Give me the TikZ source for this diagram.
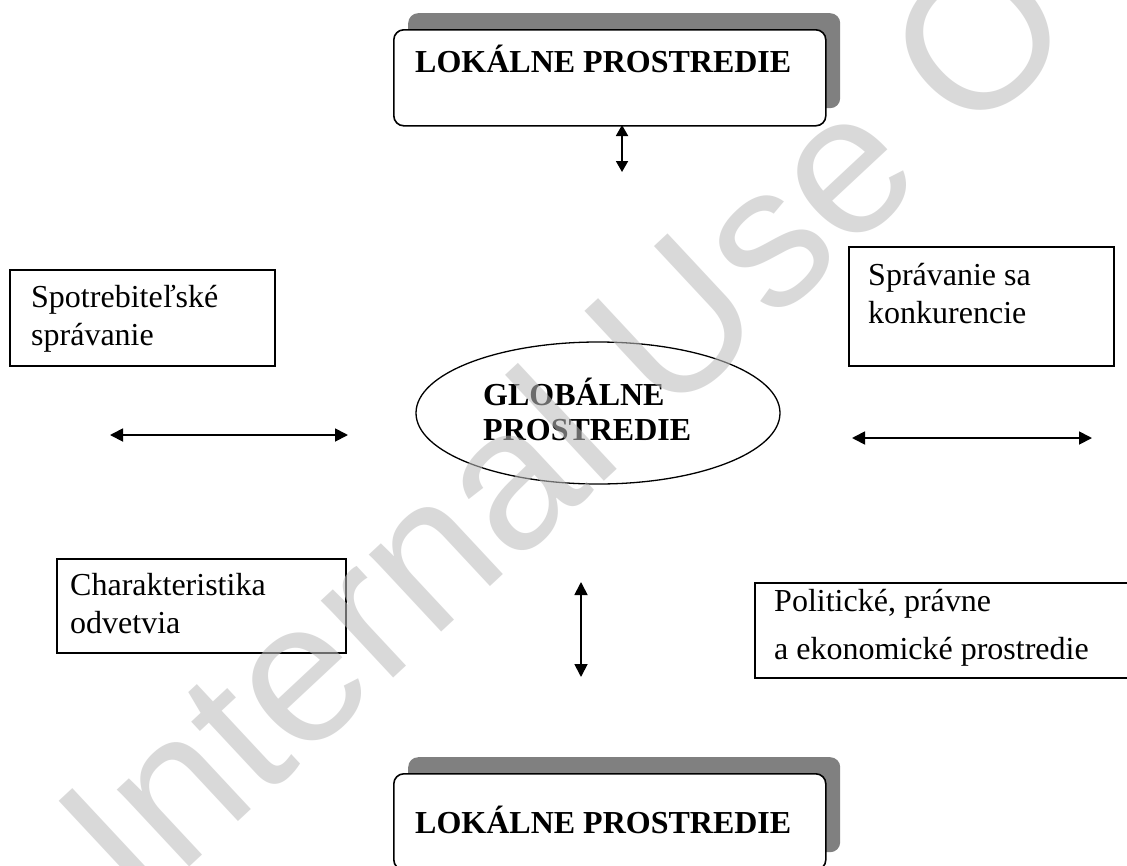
\documentclass[tikz,border=0pt]{standalone}
\usepackage{fontspec}
\setmainfont{Liberation Serif}
\newfontfamily\wmfont{Liberation Sans}
\usetikzlibrary{arrows.meta,shapes.geometric}
\begin{document}
\begin{tikzpicture}[x=1pt,y=-1pt,
  frame/.style={draw, line width=1.6pt, fill=white, inner sep=0pt, anchor=north west},
  roundframe/.style={frame, rounded corners=10pt},
  shadowbox/.style={fill=black!50, rounded corners=10pt, inner sep=0pt, anchor=north west},
  txt/.style={inner sep=0pt, anchor=base west, font=\fontsize{32}{38}\selectfont},
  boldtxt/.style={inner sep=0pt, anchor=base west, font=\fontsize{32}{38}\selectfont\bfseries},
  link/.style={line width=1.8pt, {Triangle[length=13pt,width=13pt]}-{Triangle[length=13pt,width=13pt]}},
  shortlink/.style={line width=1.8pt, {Triangle[length=11pt,width=12pt]}-{Triangle[length=11pt,width=12pt]}},
  watermark/.style={inner sep=0pt, anchor=base west, rotate=43, text=black!26, text opacity=0.57,
    font=\wmfont\fontsize{200}{200}\selectfont}
]
\clip (0,0) rectangle (1127,865);
\fill[white] (0,0) rectangle (1127,865);

% upper local environment
\node[shadowbox, minimum width=432, minimum height=95] (topsh) at (408,13) {};
\node[roundframe, minimum width=432, minimum height=96] (top) at (393,29) {};
\node[boldtxt] (toptext) at ([shift={(22,43)}]top.north west) {LOKÁLNE PROSTREDIE};

% lower local environment
\node[shadowbox, minimum width=432, minimum height=95] (botsh) at (408,757) {};
\node[roundframe, minimum width=432, minimum height=96] (bot) at (393,773) {};
\node[boldtxt] (bottext) at ([shift={(22,60)}]bot.north west) {LOKÁLNE PROSTREDIE};

% factor boxes
\node[frame, minimum width=265, minimum height=96] (cons) at (9,269) {};
\node[txt] (cons1) at ([shift={(22,38)}]cons.north west) {Spotrebiteľské};
\node[txt] (cons2) at ([shift={(22,76)}]cons.north west) {správanie};

\node[frame, minimum width=265, minimum height=119] (comp) at (848,246) {};
\node[txt] (comp1) at ([shift={(20,39)}]comp.north west) {Správanie sa};
\node[txt] (comp2) at ([shift={(20,77)}]comp.north west) {konkurencie};

\node[frame, minimum width=289, minimum height=94] (ind) at (56,558) {};
\node[txt] (ind1) at ([shift={(14,37)}]ind.north west) {Charakteristika};
\node[txt] (ind2) at ([shift={(14,75)}]ind.north west) {odvetvia};

\node[frame, minimum width=400, minimum height=95] (pol) at (754,582) {};
\node[txt] (pol1) at ([shift={(20,29)}]pol.north west) {Politické, právne};
\node[txt] (pol2) at ([shift={(20,77)}]pol.north west) {a ekonomické prostredie};

% global environment
\node[draw, ellipse, line width=1.3pt, minimum width=364, minimum height=142, inner sep=0pt] (glob) at (598,413) {};
\node[boldtxt] (glob1) at (483,405) {GLOBÁLNE};
\node[boldtxt] (glob2) at (483,440) {PROSTREDIE};

% two-way links
\coordinate (ta1) at (622,125);
\coordinate (ta2) at (622,172);
\draw[shortlink] (ta1) -- (ta2);
\coordinate (la1) at (110,435);
\coordinate (la2) at (348,435);
\draw[link] (la1) -- (la2);
\coordinate (ra1) at (852,438);
\coordinate (ra2) at (1092,438);
\draw[link] (ra1) -- (ra2);
\coordinate (ma1) at (581,582);
\coordinate (ma2) at (581,677);
\draw[link] (ma1) -- (ma2);

% watermark
\node[watermark] (wm) at (139,915) {Internal Use O};
\end{tikzpicture}
\end{document}
